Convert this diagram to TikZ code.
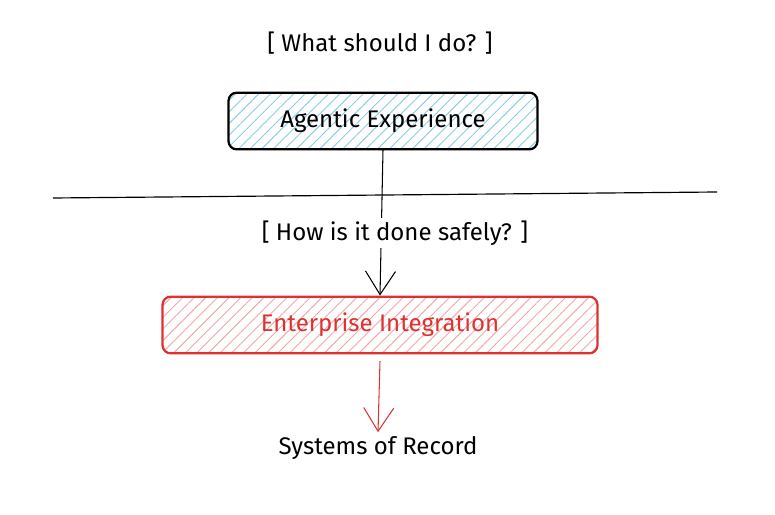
\documentclass[tikz,border=0pt]{standalone}
\usepackage{fontspec}
\setmainfont{Fira Sans}
\usetikzlibrary{positioning}
\usetikzlibrary{arrows.meta}
\usetikzlibrary{patterns.meta}
\definecolor{hatchblue}{HTML}{8CCBEA}
\definecolor{xred}{HTML}{E03131}
\definecolor{hatchred}{HTML}{F0A8A8}

\begin{document}
\begin{tikzpicture}[x=0.03cm,y=-0.03cm,>={Straight Barb[length=7mm,width=9mm]},
			semithick]
			\tikzstyle{every node}=[font=\fontsize{20.5}{24}\selectfont]
			\tikzstyle{layer}=[draw,rounded corners=7pt,line width=1.9pt,minimum height=1.7cm]
			\useasboundingbox (0,0) rectangle (775,515);
			
			\node                (Q_1) at (380,43)  {[ What should I do? ]};
			\node[layer,minimum width=9.27cm,
			pattern={Lines[angle=45,distance=7pt,line width=0.8pt]},pattern color=hatchblue]
			                     (AE)  at (383,121) {};
			\node                      at (AE)      {Agentic Experience};
			
			\coordinate          (L_1) at (53,198);
			\coordinate          (L_2) at (717,192);
			\draw[line width=1pt] (L_1) -- (L_2);
			
			\node[layer,draw=xred,minimum width=13.05cm,
			pattern={Lines[angle=45,distance=7pt,line width=0.8pt]},pattern color=hatchred]
			                     (EI)  at (380,325) {};
			\node[text=xred]           at (EI)      {Enterprise Integration};
			\node                (SR)  at (378,448) {Systems of Record};
			
			\draw[->,line width=0.9pt] (AE.south) -- (EI.north);
			\node[fill=white,inner sep=2pt] (Q_2) at (395,233) {[ How is it done safely? ]};
			\draw[->,xred,line width=0.9pt] ([yshift=-0.2cm]EI.south) -- (SR.north);
\end{tikzpicture}
\end{document}
